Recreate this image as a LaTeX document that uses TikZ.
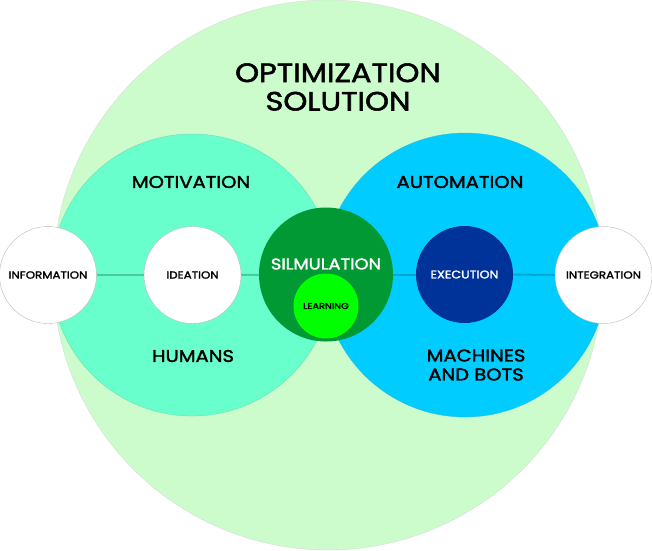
\documentclass[tikz,border=0pt]{standalone}
\usepackage{fontspec}
\setmainfont{Poppins}
\newfontfamily\labelfont{Poppins}[FakeBold=2,FakeStretch=1.15]
\definecolor{outerfill}{HTML}{CCFCCC}
\definecolor{humanfill}{HTML}{68FFCC}
\definecolor{machinefill}{HTML}{00CCFF}
\definecolor{simfill}{HTML}{009933}
\definecolor{learnfill}{HTML}{00FF00}
\definecolor{execfill}{HTML}{003399}
\definecolor{humanline}{HTML}{4CC9A0}
\definecolor{machineline}{HTML}{00A8D0}
\definecolor{rimgray}{HTML}{BBBBBB}
\begin{document}
\begin{tikzpicture}[x=1pt,y=-1pt,
  disc/.style={circle,inner sep=0pt,minimum size=#1},
  whitedisc/.style={disc=97pt,fill=white,draw=rimgray,line width=0.4pt},
  lbl/.style={font=\labelfont\fontsize{#1}{#1}\selectfont,text=black,align=center},
  link/.style={line width=2pt}]
\useasboundingbox (0,0) rectangle (652,550);

% background regions
\node[disc=550pt,fill=outerfill,draw=rimgray!60,line width=0.3pt] (outer) at (328,275) {};
\node[disc=282pt,fill=humanfill,draw=humanline!80,line width=0.3pt] (humans) at (192,275) {};
\node[disc=284pt,fill=machinefill,draw=machineline!80,line width=0.3pt] (machines) at (465,275) {};

% core circles
\node[whitedisc] (info) at (48,275) {};
\node[whitedisc] (idea) at (192.5,275) {};
\node[disc=134pt,fill=simfill] (sim) at (326,274.5) {};
\node[disc=65pt,fill=learnfill] (learn) at (326,306) {};
\node[disc=97pt,fill=execfill] (exec) at (464.5,274.5) {};
\node[whitedisc] (integ) at (603.5,275) {};

% connectors
\draw[link,humanline] (info) -- (idea);
\draw[link,humanline] (idea) -- (sim);
\draw[link,machineline] (sim) -- (exec);
\draw[link,machineline] (exec) -- (integ);

% texts
\node[lbl=26.5pt] (title) at (338,87) {OPTIMIZATION\\[2pt]SOLUTION};
\node[lbl=17pt] (motiv) at (191,182) {MOTIVATION};
\node[lbl=17pt] (autom) at (460,182) {AUTOMATION};
\node[lbl=17pt] (hum) at (193,356) {HUMANS};
\node[lbl=17pt] (mach) at (476,365) {MACHINES\\[2pt]AND BOTS};
\node[lbl=10.3pt] (infot) at (info) {INFORMATION};
\node[lbl=10.3pt] (ideat) at (idea) {IDEATION};
\node[lbl=15.5pt,text=white] (simt) at (326,264) {SILMULATION};
\node[lbl=8.5pt] (learnt) at (learn) {LEARNING};
\node[lbl=11pt,text=white] (exect) at (exec) {EXECUTION};
\node[lbl=10.3pt] (integt) at (integ) {INTEGRATION};
\end{tikzpicture}
\end{document}
